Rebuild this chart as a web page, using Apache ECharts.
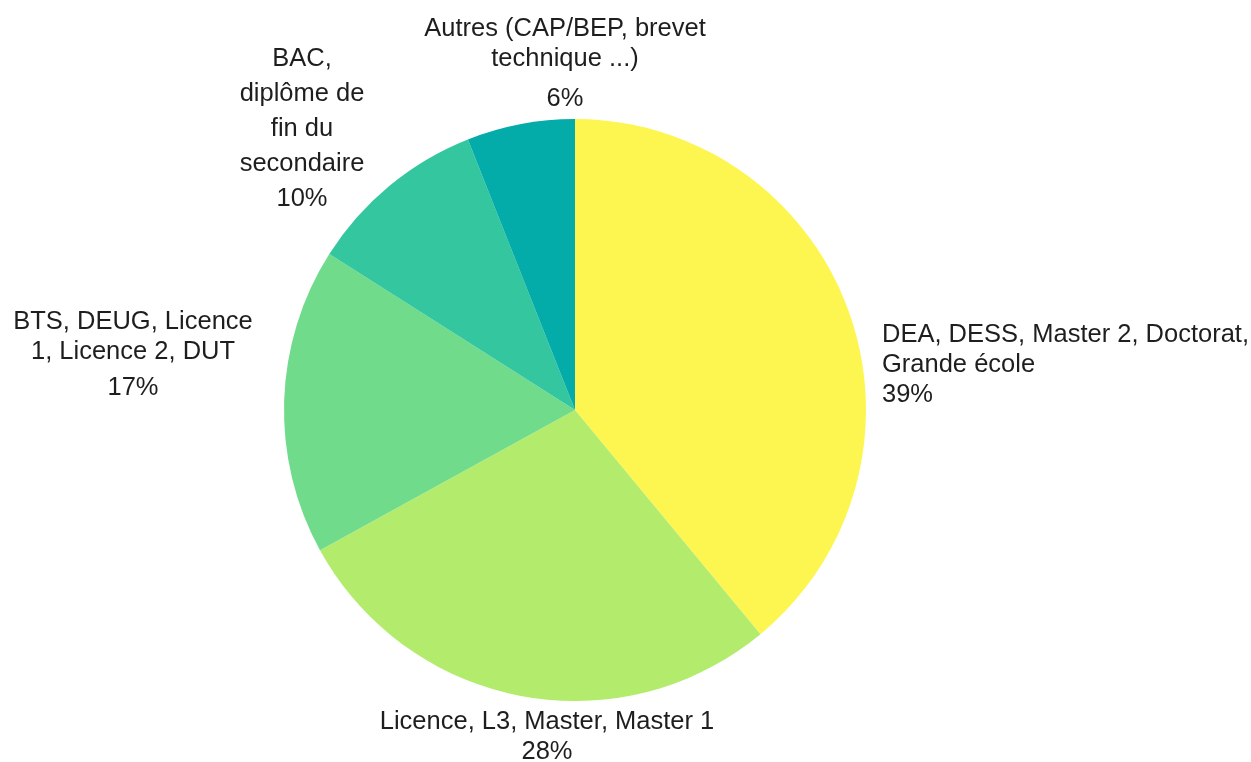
<!DOCTYPE html>
<html>
<head>
<meta charset="utf-8">
<style>
  html, body { margin: 0; padding: 0; background: #fff; }
  #chart { width: 1251px; height: 762px; }
</style>
<script src="https://cdn.jsdelivr.net/npm/echarts@6/dist/echarts.min.js"></script>
</head>
<body>
<div id="chart"></div>
<script>
// slices, clockwise from 12 o'clock
const categories = [
  'DEA, DESS, Master 2, Doctorat,\nGrande école',
  'Licence, L3, Master, Master 1',
  'BTS, DEUG, Licence\n1, Licence 2, DUT',
  'BAC,\ndiplôme de\nfin du\nsecondaire',
  'Autres (CAP/BEP, brevet\ntechnique ...)'
]
const values = [39, 28, 17, 10, 6]
const colors = ['#fdf650', '#b3ec6c', '#6fdb8b', '#33c69f', '#03aba9']

// label placement: [x, top y, align, name line height, percent line height]
const labelSpots = [
  [882, 320, 'left', 30, 30],
  [547, 707, 'center', 30, 30],
  [133, 307, 'center', 30, 42],
  [302, 41.5, 'center', 35, 35],
  [565, 14, 'center', 30, 50]
]

const chart = echarts.init(document.getElementById('chart'))

const seriesData = categories.map((name, i) => ({
  name,
  value: values[i],
  itemStyle: { color: colors[i] },
  label: {
    align: labelSpots[i][2],
    rich: {
      n: { lineHeight: labelSpots[i][3], align: labelSpots[i][2] },
      p: { lineHeight: labelSpots[i][4], align: labelSpots[i][2] }
    }
  }
}))

chart.setOption({
  animation: false,
  textStyle: { fontFamily: '"Liberation Sans", Arial, sans-serif' },
  series: [{
    type: 'pie',
    center: [575, 410],
    radius: 291,
    startAngle: 90,
    clockwise: true,
    silent: true,
    data: seriesData,
    itemStyle: { borderWidth: 0 },
    labelLine: { show: false },
    label: {
      show: true,
      position: 'outside',
      alignTo: 'none',
      overflow: 'none',
      color: '#1e1e1e',
      fontSize: 25.5,
      fontFamily: '"Liberation Sans", Arial, sans-serif',
      formatter: p => '{n|' + p.name + '}\n{p|' + p.value + '%}',
      rich: {
        n: { fontSize: 25.5, color: '#1e1e1e' },
        p: { fontSize: 25.5, color: '#1e1e1e' }
      }
    },
    labelLayout: params => {
      const s = labelSpots[params.dataIndex]
      return { x: s[0], y: s[1], align: s[2], verticalAlign: 'top', hideOverlap: false }
    }
  }]
})
</script>
</body>
</html>
